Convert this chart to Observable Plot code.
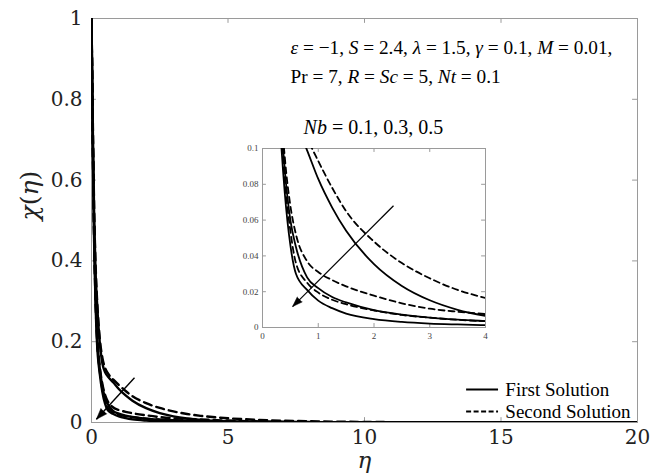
<!DOCTYPE html>
<html>
<head>
<meta charset="utf-8">
<script src="https://cdn.jsdelivr.net/npm/d3@7"></script>
<script src="https://cdn.jsdelivr.net/npm/@observablehq/plot@0.6"></script>
<style>
  html, body { margin: 0; padding: 0; background: white; }
  #wrap { position: relative; width: 662px; height: 473px; overflow: hidden; }
  #wrap svg { position: absolute; }
</style>
</head>
<body>
<div id="wrap"></div>
<script>
// ---- data ----
const eta = [0, 0.05, 0.1, 0.15, 0.2, 0.3, 0.4, 0.5, 0.6, 0.8, 1, 1.25, 1.5, 2, 2.5, 3, 3.5, 4, 5, 6, 8, 10, 12, 15, 20];

// First solution (solid)
const first_Nb01 = [1, 0.72, 0.5, 0.37, 0.3, 0.2, 0.146, 0.124, 0.114, 0.099, 0.083, 0.067, 0.054, 0.0354, 0.0232, 0.0152, 0.0099, 0.0065, 0.0028, 0.0012, 0.0002, 0.0001, 0, 0, 0];
const first_Nb03 = [1, 0.68, 0.45, 0.31, 0.22, 0.135, 0.088, 0.06, 0.045, 0.028, 0.022, 0.017, 0.014, 0.0097, 0.0072, 0.0055, 0.0044, 0.0036, 0.0022, 0.0013, 0.0005, 0.0002, 0.0001, 0, 0];
const first_Nb05 = [1, 0.66, 0.43, 0.29, 0.2, 0.122, 0.075, 0.046, 0.03, 0.021, 0.015, 0.0108, 0.0078, 0.0047, 0.0031, 0.0022, 0.0017, 0.0013, 0.0008, 0.0004, 0.0001, 0, 0, 0, 0];

// Second solution (dashed)
const second_Nb01 = [1, 0.74, 0.52, 0.39, 0.31, 0.21, 0.16, 0.135, 0.122, 0.106, 0.093, 0.078, 0.065, 0.048, 0.036, 0.0275, 0.021, 0.0165, 0.0105, 0.0068, 0.003, 0.0014, 0.0007, 0.0002, 0];
const second_Nb03 = [1, 0.69, 0.46, 0.32, 0.23, 0.14, 0.095, 0.068, 0.052, 0.037, 0.031, 0.0265, 0.023, 0.0178, 0.0135, 0.0105, 0.0088, 0.0075, 0.0048, 0.003, 0.0012, 0.0005, 0.0002, 0, 0];
const second_Nb05 = [1, 0.67, 0.44, 0.3, 0.21, 0.13, 0.082, 0.054, 0.036, 0.025, 0.0195, 0.0155, 0.013, 0.0095, 0.007, 0.0055, 0.0043, 0.0035, 0.002, 0.0011, 0.0003, 0.0001, 0, 0, 0];

const xTicks = [0, 5, 10, 15, 20];
const yTicks = [0, 0.2, 0.4, 0.6, 0.8, 1];
const insetXTicks = [0, 1, 2, 3, 4];
const insetYTicks = [0, 0.02, 0.04, 0.06, 0.08, 0.1];

const legendLabels = ["First Solution", "Second Solution"];
const annotLines = [
  "ε = −1, S = 2.4, λ = 1.5, γ = 0.1, M = 0.01,",
  "Pr = 7, R = Sc = 5, Nt = 0.1",
  "Nb = 0.1, 0.3, 0.5"
];

// ---- build table ----
const seriesDefs = [
  {name: "First Nb=0.1", sol: "First", vals: first_Nb01},
  {name: "First Nb=0.3", sol: "First", vals: first_Nb03},
  {name: "First Nb=0.5", sol: "First", vals: first_Nb05},
  {name: "Second Nb=0.1", sol: "Second", vals: second_Nb01},
  {name: "Second Nb=0.3", sol: "Second", vals: second_Nb03},
  {name: "Second Nb=0.5", sol: "Second", vals: second_Nb05}
];
const rows = [];
for (const s of seriesDefs) s.vals.forEach((v, i) => rows.push({eta: eta[i], chi: v, series: s.name, sol: s.sol}));
const solid = rows.filter(r => r.sol === "First");
const dashed = rows.filter(r => r.sol === "Second");

// annotation placement (data units)
const annotPos = [{x: 7.29, y: 0.928}, {x: 7.29, y: 0.856}, {x: 7.77, y: 0.73}];
const annots = annotLines.map((t, i) => ({text: t, ...annotPos[i]}));
const legendRows = [
  {label: legendLabels[0], y: 0.0817, dash: null},
  {label: legendLabels[1], y: 0.0272, dash: "6,3"}
];
const mainArrow = [{x1: 1.575, y1: 0.111, x2: 0.18, y2: 0.008}];
const insetArrow = [{x1: 2.35, y1: 0.068, x2: 0.54, y2: 0.0117}];

const times = "Liberation Serif";
const tickFont = "DejaVu Serif";
const fmt = d => String(d);

// arrow = thin link + filled spike head, angle taken from the plot's own scales
function arrowMarks(arrow, angle, len, width, sw) {
  const marks = [Plot.link(arrow, {x1: "x1", y1: "y1", x2: "x2", y2: "y2", stroke: "black", strokeWidth: sw})];
  if (angle != null) {
    marks.push(Plot.vector(arrow, {x: "x2", y: "y2", rotate: angle, length: len, r: width, shape: "spike", anchor: "end", fill: "black", stroke: "black", strokeWidth: 0.5}));
  }
  return marks;
}
function angleOf(plot, a) {
  const sx = plot.scale("x"), sy = plot.scale("y");
  const dx = sx.apply(a.x2) - sx.apply(a.x1);
  const dy = sy.apply(a.y2) - sy.apply(a.y1);
  return Math.atan2(dx, -dy) * 180 / Math.PI;
}

function buildMain(angle) {
  return Plot.plot({
    width: 662, height: 473,
    marginLeft: 91, marginRight: 25, marginTop: 18, marginBottom: 51,
    x: {domain: [0, 20], axis: null},
    y: {domain: [0, 1], axis: null},
    style: {fontFamily: times, fontSize: "20px", color: "#222", background: "white", overflow: "visible"},
    marks: [
      Plot.frame({stroke: "#9a9a9a", strokeWidth: 1}),
      Plot.text(xTicks, {x: d => d, y: 0, dy: 15, text: fmt, fontFamily: tickFont, fontSize: 20, fill: "#222"}),
      Plot.text(yTicks, {x: 0, y: d => d, dx: -9, textAnchor: "end", text: fmt, fontFamily: tickFont, fontSize: 20, fill: "#222"}),
      Plot.ruleX(xTicks.slice(1, -1), {y1: 0, y2: 0.012, stroke: "#9a9a9a"}),
      Plot.ruleX(xTicks.slice(1, -1), {y1: 1, y2: 0.988, stroke: "#9a9a9a"}),
      Plot.ruleY(yTicks.slice(1, -1), {x1: 0, x2: 0.18, stroke: "#9a9a9a"}),
      Plot.ruleY(yTicks.slice(1, -1), {x1: 20, x2: 19.82, stroke: "#9a9a9a"}),
      Plot.line(solid, {x: "eta", y: "chi", z: "series", curve: "monotone-x", stroke: "black", strokeWidth: 2.4, clip: true}),
      Plot.line(dashed, {x: "eta", y: "chi", z: "series", curve: "monotone-x", stroke: "black", strokeWidth: 2.4, strokeDasharray: "8,5", clip: true}),
      ...arrowMarks(mainArrow, angle, 11, 4, 1.4),
      Plot.ruleY(legendRows.filter(d => !d.dash), {y: "y", x1: 13.74, x2: 14.91, stroke: "black", strokeWidth: 2}),
      Plot.ruleY(legendRows.filter(d => d.dash), {y: "y", x1: 13.74, x2: 14.91, stroke: "black", strokeWidth: 2, strokeDasharray: "5,2.5"}),
      Plot.text(legendRows, {x: 15.16, y: "y", text: "label", textAnchor: "start", fontSize: 19, fill: "black", fontFamily: times}),
      Plot.text(annots.slice(0, 2), {x: "x", y: "y", text: "text", textAnchor: "start", fontSize: 19.3, fill: "black", fontFamily: times}),
      Plot.text(annots.slice(2), {x: "x", y: "y", text: "text", textAnchor: "start", fontSize: 20, fill: "black", fontFamily: times}),
      Plot.text(["χ(η)"], {frameAnchor: "left", rotate: -90, dx: -62, fontSize: 25, fill: "#222", fontFamily: tickFont}),
      Plot.text(["η"], {frameAnchor: "bottom", dy: 45, fontSize: 23, fontStyle: "italic", fill: "#222", fontFamily: tickFont})
    ]
  });
}

function buildInset(angle) {
  return Plot.plot({
    width: 277, height: 207,
    marginLeft: 42, marginRight: 12, marginTop: 8, marginBottom: 20,
    x: {domain: [0, 4], axis: null},
    y: {domain: [0, 0.1], axis: null},
    style: {fontFamily: times, fontSize: "9px", color: "#444", background: "transparent", overflow: "visible"},
    marks: [
      Plot.frame({stroke: "#9a9a9a", fill: "white"}),
      Plot.text(insetXTicks, {x: d => d, y: 0, dy: 9, text: fmt, fontFamily: times, fontSize: 9, fill: "#444"}),
      Plot.text(insetYTicks, {x: 0, y: d => d, dx: -4, textAnchor: "end", text: fmt, fontFamily: times, fontSize: 9, fill: "#444"}),
      Plot.ruleX(insetXTicks.slice(1, -1), {y1: 0, y2: 0.0022, stroke: "#9a9a9a"}),
      Plot.ruleX(insetXTicks.slice(1, -1), {y1: 0.1, y2: 0.0978, stroke: "#9a9a9a"}),
      Plot.ruleY(insetYTicks.slice(1, -1), {x1: 0, x2: 0.07, stroke: "#9a9a9a"}),
      Plot.ruleY(insetYTicks.slice(1, -1), {x1: 4, x2: 3.93, stroke: "#9a9a9a"}),
      Plot.line(solid, {x: "eta", y: "chi", z: "series", curve: "monotone-x", stroke: "black", strokeWidth: 1.8, clip: true}),
      Plot.line(dashed, {x: "eta", y: "chi", z: "series", curve: "monotone-x", stroke: "black", strokeWidth: 1.8, strokeDasharray: "6,4", clip: true}),
      ...arrowMarks(insetArrow, angle, 10, 3.5, 1.2)
    ]
  });
}

let main, inset;
try {
  main = buildMain(angleOf(buildMain(null), mainArrow[0]));
  inset = buildInset(angleOf(buildInset(null), insetArrow[0]));
} catch (e) {
  main = buildMain(null);
  inset = buildInset(null);
}
main.style.left = "0px";
main.style.top = "0px";
inset.style.left = "220px";
inset.style.top = "140px";

const wrap = document.getElementById("wrap");
wrap.appendChild(main);
wrap.appendChild(inset);

// italicize variable names in annotation texts
const italicRe = /(ε|λ|γ|Sc|Nt|Nb|S|M|R|χ|η)/;
const targets = new Set([...annotLines, "χ(η)"]);
d3.select(main).selectAll("text").each(function () {
  const s = this.textContent;
  if (!targets.has(s)) return;
  const parts = s.split(italicRe).filter(p => p.length);
  this.textContent = "";
  for (const p of parts) {
    const t = d3.select(this).append("tspan").text(p);
    const m = p.match(italicRe);
    if (m && m[0] === p) t.attr("font-style", "italic");
  }
});
</script>
</body>
</html>
